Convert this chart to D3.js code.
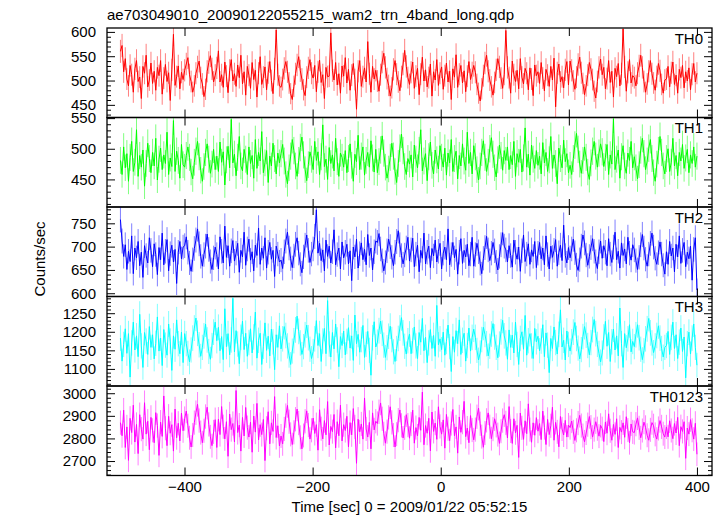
<!DOCTYPE html>
<html><head><meta charset="utf-8">
<script src="https://cdn.jsdelivr.net/npm/d3@7"></script>
<style>body{margin:0;background:#fff} svg text{font-family:"Liberation Sans",Arial,Helvetica,sans-serif}</style>
</head><body><svg id="c" width="723" height="516"></svg>
<script>
// ---- data (counts/sec, evenly binned from tStart to tEnd) ----
const title = "ae703049010_20090122055215_wam2_trn_4band_long.qdp";
const xLabel = "Time [sec] 0 = 2009/01/22 05:52:15";
const yLabel = "Counts/sec";
const tStart = -500, tEnd = 400;
const xTicks = [-400, -200, 0, 200, 400];
const bandNames = ["TH0", "TH1", "TH2", "TH3", "TH0123"];

const th0 = [
560,572,518,545,503,489,531,512,476,524,541,498,507,463,529,515,552,487,501,536,
494,519,480,527,510,541,472,505,533,498,516,459,522,595,490,508,530,483,517,502,
521,534,547,512,498,476,489,515,528,540,506,493,467,482,519,537,551,524,497,511,
526,561,497,512,486,538,509,475,521,543,499,514,488,532,506,552,493,518,470,529,
511,484,537,502,521,466,515,549,492,507,528,481,516,539,500,473,524,604,512,489,
486,502,525,539,518,495,473,461,488,514,532,549,520,503,481,469,507,526,543,515,
505,531,477,518,542,496,512,463,527,508,509,598,520,501,537,491,514,474,530,509,
547,495,523,480,511,535,502,441,519,541,488,508,526,497,580,514,476,529,503,521,
499,478,512,538,556,527,504,490,468,485,523,541,513,497,479,508,534,562,529,506,
492,517,538,484,509,525,471,513,548,499,522,487,506,534,468,518,501,543,490,515,
528,482,510,536,497,519,461,524,507,553,486,513,531,495,520,477,509,539,502,516,
531,517,492,474,458,483,510,536,552,519,501,487,470,496,522,545,528,505,484,513,
603,527,506,474,540,512,498,521,483,545,507,493,525,515,481,526,503,469,532,510,
518,494,537,505,479,523,511,488,529,501,546,446,516,534,497,508,485,522,539,491,
540,521,499,482,507,533,548,516,494,471,489,511,537,523,502,478,464,498,527,544,
512,527,483,504,541,496,519,466,525,508,535,489,514,606,528,478,517,543,495,510,
506,489,515,530,552,527,498,476,493,519,541,514,495,480,508,535,520,492,474,501,
503,529,487,516,538,492,511,474,523,506,531,485,518,499,526,481,513,535,497,515];

const th1 = [
481,458,503,469,492,447,486,512,463,478,531,455,489,470,498,439,476,509,484,461,
494,472,517,449,483,501,466,490,476,527,458,485,471,546,463,496,481,452,507,474,
470,489,503,486,462,451,478,496,512,487,465,447,471,494,508,483,460,475,499,466,
488,463,511,478,495,441,482,504,469,548,477,491,456,486,520,472,464,499,483,458,
503,476,489,452,515,468,494,480,528,461,477,497,445,488,472,509,484,459,493,477,
492,507,480,458,443,469,488,515,497,472,455,481,502,519,490,466,448,474,495,483,
466,512,481,495,458,487,539,471,483,450,502,476,490,464,517,479,455,493,486,470,
497,461,484,508,473,447,491,479,522,466,488,503,457,481,494,470,513,485,462,499,
461,479,498,521,493,470,452,467,486,509,488,463,445,476,501,524,497,471,458,484,
475,490,454,506,483,469,497,531,464,480,492,448,487,511,473,459,498,482,467,505,
486,470,501,457,493,477,515,463,484,496,451,489,472,508,480,465,527,476,494,459,
505,487,466,449,472,494,513,486,463,478,500,518,491,469,454,482,506,489,465,497,
481,503,466,489,474,512,455,492,478,499,462,485,534,470,491,457,506,483,468,497,
473,488,459,510,477,494,463,482,520,468,490,476,443,501,484,469,514,479,492,461,
473,458,484,506,525,499,475,460,481,503,486,462,450,477,496,512,488,470,493,508,
495,471,486,507,458,490,475,549,466,483,498,452,487,505,472,460,493,481,512,469,
487,469,451,474,498,517,492,466,480,501,515,484,461,447,475,497,520,494,472,459,
484,500,463,478,517,472,489,456,494,480,507,468,485,499,461,490,476,503,470,488];

const th2 = [
758,712,679,704,651,690,668,723,642,697,676,711,659,688,634,702,681,665,719,692,
657,706,683,640,698,672,729,661,690,715,648,685,703,667,694,621,688,711,674,699,
702,721,688,665,647,672,696,714,738,706,679,658,683,701,727,694,668,651,676,699,
683,652,721,690,665,744,677,702,658,691,713,669,686,707,645,692,678,731,660,695,
716,671,689,648,703,681,740,662,697,675,719,654,688,709,673,692,636,701,684,667,
671,653,689,712,731,697,674,655,680,705,719,686,662,644,678,703,725,692,666,684,
695,722,779,686,707,670,693,648,714,679,701,665,689,736,661,683,697,652,710,676,
688,705,663,691,627,699,678,716,654,685,708,672,694,661,726,681,697,650,689,712,
709,728,695,670,648,666,691,716,700,677,659,688,711,734,704,681,663,682,697,720,
669,693,718,657,684,703,646,692,675,729,663,688,701,655,696,680,714,667,690,707,
652,686,699,672,738,661,683,709,676,694,641,688,717,664,692,678,705,659,684,720,
658,683,707,689,664,642,675,698,722,693,670,686,709,691,667,650,679,704,730,701,
693,667,702,681,656,714,688,673,699,647,691,725,668,684,706,662,693,679,711,655,
686,709,674,697,661,723,683,652,701,677,692,715,658,687,703,670,746,681,665,698,
676,695,716,687,661,649,672,701,725,708,682,660,679,698,717,690,668,653,689,712,
675,702,688,659,717,684,666,699,731,672,690,654,708,681,695,663,720,686,671,704,
693,670,651,677,704,726,697,673,658,684,707,729,699,675,662,687,710,684,660,641,
689,662,711,680,697,646,705,678,723,664,692,709,657,688,674,701,628,694,719,607];

const th3 = [
1183,1121,1166,1208,1142,1195,1078,1170,1226,1151,1189,1133,1247,1162,1104,1198,1175,1139,1214,1158,
1192,1127,1169,1240,1148,1183,1109,1206,1164,1137,1221,1175,1096,1189,1153,1232,1168,1141,1199,1117,
1195,1168,1142,1119,1151,1183,1210,1237,1196,1165,1134,1158,1189,1221,1178,1147,1126,1163,1199,1226,
1176,1212,1149,1187,1125,1262,1160,1195,1138,1178,1290,1146,1203,1167,1114,1185,1229,1152,1196,1134,
1171,1208,1143,1186,1253,1129,1177,1196,1112,1161,1224,1150,1188,1135,1207,1173,1098,1192,1158,1216,
1154,1181,1214,1190,1162,1137,1112,1148,1176,1205,1242,1201,1170,1139,1160,1192,1218,1184,1153,1128,
1147,1181,1230,1163,1195,1120,1175,1209,1141,1284,1167,1132,1198,1154,1221,1178,1106,1187,1163,1202,
1138,1174,1211,1156,1189,1123,1245,1168,1193,1145,1179,1217,1131,1166,1201,1150,1083,1184,1227,1159,
1172,1203,1229,1196,1164,1131,1157,1188,1215,1179,1146,1120,1155,1182,1210,1238,1197,1161,1140,1176,
1194,1141,1176,1213,1162,1128,1198,1172,1236,1149,1185,1117,1170,1206,1155,1190,1134,1271,1165,1181,
1152,1199,1137,1174,1218,1160,1093,1187,1145,1203,1168,1232,1139,1177,1196,1121,1163,1210,1148,1185,
1207,1185,1150,1124,1143,1179,1212,1193,1168,1135,1161,1194,1222,1186,1158,1130,1167,1200,1231,1189,
1170,1126,1205,1158,1191,1143,1226,1166,1112,1182,1200,1153,1244,1137,1176,1195,1162,1128,1209,1173,
1188,1149,1175,1219,1133,1197,1164,1090,1182,1155,1213,1171,1140,1193,1259,1159,1177,1124,1202,1166,
1148,1173,1199,1225,1182,1156,1127,1152,1187,1214,1191,1163,1138,1171,1206,1233,1195,1166,1142,1119,
1143,1186,1228,1161,1198,1120,1173,1207,1151,1189,1135,1264,1168,1104,1195,1157,1181,1219,1146,1174,
1160,1192,1219,1184,1153,1125,1149,1181,1208,1236,1197,1170,1144,1162,1190,1216,1183,1155,1132,1158,
1163,1201,1139,1185,1226,1155,1192,1128,1172,1210,1147,1186,1076,1168,1199,1140,1183,1221,1158,1110];

const th0123 = [
2870,2812,2925,2760,2851,2703,2889,2826,2947,2784,2862,2733,2905,2841,2797,2958,2819,2876,2750,2893,
2836,2781,2914,2857,2725,2872,2809,2988,2845,2768,2898,2823,2861,2744,2930,2803,2867,2789,2912,2834,
2888,2921,2856,2803,2762,2815,2870,2914,2951,2879,2826,2781,2834,2897,2938,2862,2807,2768,2829,2883,
2760,2885,2817,2941,2852,2798,2874,2721,2908,2839,2866,2785,3012,2826,2859,2744,2893,2811,2937,2848,
2806,2872,2739,2899,2828,2955,2793,2861,2817,2884,2702,2845,2918,2776,2869,2831,2985,2804,2856,2767,
2811,2776,2842,2901,2946,2874,2818,2773,2827,2885,2930,2868,2805,2754,2813,2876,2922,2859,2797,2836,
2890,2822,2861,2748,2927,2843,2798,2879,2816,2963,2771,2853,2830,2906,2758,2874,2812,2947,2789,2861,
2835,2898,2763,2870,2816,2932,2851,2690,2885,2829,2864,2797,2979,2842,2806,2871,2754,2913,2838,2876,
2866,2918,2957,2887,2821,2779,2830,2893,2940,2871,2815,2762,2819,2881,2926,2858,2802,2847,2905,2859,
2801,2864,2925,2779,2848,2811,2893,2836,3005,2772,2857,2823,2889,2745,2917,2831,2868,2796,2940,2853,
2819,2882,2757,2906,2843,2790,2866,2928,2812,2851,2735,2895,2827,2872,2964,2808,2846,2781,2901,2837,
2794,2839,2896,2934,2865,2808,2761,2824,2880,2913,2852,2799,2841,2887,2858,2817,2778,2832,2879,2905,
2869,2802,2941,2833,2778,2887,2825,2858,2716,2912,2847,2796,2878,2821,2953,2839,2783,2869,2814,2892,
2832,2866,2795,2921,2848,2773,2884,2817,2856,2938,2792,2871,2829,2763,2897,2842,2815,2880,2806,2859,
2848,2877,2829,2791,2836,2868,2902,2857,2813,2785,2824,2861,2897,2850,2806,2839,2874,2843,2810,2858,
2843,2786,2873,2823,2909,2834,2792,2862,2818,2887,2760,2849,2828,2869,2805,2896,2837,2781,2864,2829,
2826,2863,2891,2847,2803,2835,2872,2849,2814,2792,2838,2870,2856,2818,2797,2844,2879,2851,2821,2806,
2851,2807,2878,2835,2799,2866,2824,2893,2768,2852,2831,2874,2712,2846,2819,2883,2836,2797,2867,2730];

const seriesValues = [th0, th1, th2, th3, th0123];
const yTickLabels = [[450,500,550,600],[450,500,550],[600,650,700,750],[1100,1150,1200,1250],[2700,2800,2900,3000]];

// ---- layout / style ----
const colors = ["#ff0000","#00ff00","#0000ff","#00ffff","#ff00ff"];
const yDomains = [[424,608],[405,551],[593,785],[1054,1295],[2636,3032]];
const minorSteps = [10,10,10,10,20];
const L = 107, R = 712, T = 28, PH = 89.5;

const svg = d3.select("#c");
const x = d3.scaleLinear().domain([-521, 423.5]).range([L, R]);

function styleAxis(g, showText) {
  g.select(".domain").remove();
  g.selectAll(".tick line").attr("stroke", "#000").attr("stroke-width", 1);
  g.selectAll(".tick text").attr("fill", "#000").attr("font-size", 15)
    .attr("font-family", '"Liberation Sans",Arial,sans-serif');
  if (!showText) g.selectAll(".tick text").remove();
}

seriesValues.forEach((vals, i) => {
  const y0 = T + i * PH, y1 = y0 + PH;
  const y = d3.scaleLinear().domain(yDomains[i]).range([y1, y0]);
  const n = vals.length;
  const data = vals.map((v, j) => ({ t: tStart + j * (tEnd - tStart) / (n - 1), v: v, e: Math.sqrt(v) }));

  svg.append("clipPath").attr("id", "clip" + i)
    .append("rect").attr("x", L).attr("y", y0).attr("width", R - L).attr("height", PH);
  const g = svg.append("g").attr("clip-path", `url(#clip${i})`);
  g.selectAll("line.err").data(data).join("line").attr("class", "err")
    .attr("x1", d => x(d.t)).attr("x2", d => x(d.t))
    .attr("y1", d => y(d.v - d.e)).attr("y2", d => y(d.v + d.e))
    .attr("stroke", colors[i]).attr("stroke-opacity", 0.5).attr("stroke-width", 1);
  g.append("path").datum(data)
    .attr("d", d3.line().x(d => x(d.t)).y(d => y(d.v)))
    .attr("fill", "none").attr("stroke", colors[i]).attr("stroke-width", 1);

  // minor y ticks
  const st = minorSteps[i];
  const minors = d3.range(Math.ceil(yDomains[i][0] / st) * st, yDomains[i][1], st)
    .filter(v => !yTickLabels[i].includes(v));
  svg.append("g").attr("transform", `translate(${L},0)`)
    .call(d3.axisLeft(y).tickValues(minors).tickSize(-4)).call(g => styleAxis(g, false));
  svg.append("g").attr("transform", `translate(${R},0)`)
    .call(d3.axisRight(y).tickValues(minors).tickSize(-4)).call(g => styleAxis(g, false));
  // major y ticks
  svg.append("g").attr("transform", `translate(${L},0)`)
    .call(d3.axisLeft(y).tickValues(yTickLabels[i]).tickSize(-8).tickPadding(11).tickFormat(d3.format("d")))
    .call(g => styleAxis(g, true));
  svg.append("g").attr("transform", `translate(${R},0)`)
    .call(d3.axisRight(y).tickValues(yTickLabels[i]).tickSize(-8)).call(g => styleAxis(g, false));
  // x ticks
  svg.append("g").attr("transform", `translate(0,${y0})`)
    .call(d3.axisTop(x).tickValues(xTicks).tickSize(-8)).call(g => styleAxis(g, false));
  svg.append("g").attr("transform", `translate(0,${y1})`)
    .call(d3.axisBottom(x).tickValues(xTicks).tickSize(-8).tickPadding(6).tickFormat(d3.format("d")))
    .call(g => styleAxis(g, i === seriesValues.length - 1));

  // frame
  svg.append("rect").attr("x", L).attr("y", y0).attr("width", R - L).attr("height", PH)
    .attr("fill", "none").attr("stroke", "#000").attr("stroke-width", 1.3);

  svg.append("text").attr("x", 703).attr("y", y0 + 15.5).attr("text-anchor", "end")
    .attr("font-size", 15).attr("fill", "#000").text(bandNames[i]);
});

svg.append("text").attr("x", L).attr("y", 20).attr("font-size", 15).attr("fill", "#000").text(title);
svg.append("text").attr("x", (L + R) / 2).attr("y", 512).attr("text-anchor", "middle")
  .attr("font-size", 15).attr("fill", "#000").text(xLabel);
svg.append("text").attr("transform", "translate(45,259) rotate(-90)").attr("text-anchor", "middle")
  .attr("font-size", 15).attr("fill", "#000").text(yLabel);
</script>
</body></html>
